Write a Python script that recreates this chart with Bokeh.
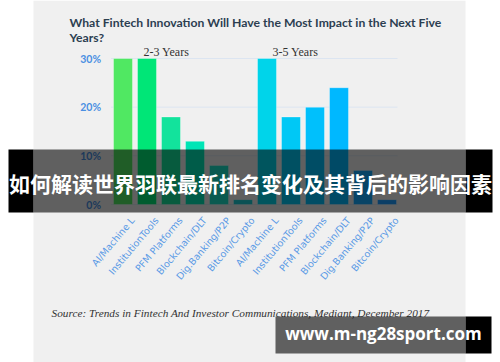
from bokeh.plotting import figure
from bokeh.models import (Range1d, FixedTicker, BoxAnnotation, Label,
                          PrintfTickFormatter)
from bokeh.embed import file_html
from bokeh.resources import INLINE

# ---- data ----
innovations = ["AI/Machine L", "InstitutionTools", "PFM Platforms",
               "Blockchain/DLT", "Dig.Banking/P2P", "Bitcoin/Crypto"]
horizons = ["2-3 Years", "3-5 Years"]
values_2_3 = [30, 30, 18, 13, 8, 1]
values_3_5 = [30, 18, 20, 24, 7, 1]
y_ticks = [0, 10, 20, 30]

title_lines = ["What Fintech Innovation Will Have the Most Impact in the Next Five",
               "Years?"]
source_text = "Source: Trends in Fintech And Investor Communications, Mediant, December 2017"
banner_text = "如何解读世界羽联最新排名变化及其背后的影响因素"
watermark_text = "www.m-ng28sport.com"

# ---- styles ----
bar_colors = ["#50e862", "#00e677", "#12e39c", "#00e5b6", "#19e2c8", "#1ccbd2",
              "#00d4ea", "#00c8f5", "#00c0fc", "#00b8ff", "#14aaff", "#1c9cff"]

W, H = 500, 362
PX = 146 / 30.0          # pixels per percentage point
X0, Y0 = 110.5, 204      # pixel position of category -0.5 and of 0 %


def dx(ix):
    return (ix - X0) / 24.0 - 0.5


def dy(iy):
    return (Y0 - iy) / PX


labels = innovations + innovations
xs = list(range(len(labels)))
tops = values_2_3 + values_3_5

p = figure(width=W, height=H, output_backend="svg", toolbar_location=None,
           x_range=Range1d(dx(0), dx(W)), y_range=Range1d(dy(H), dy(0)),
           min_border=0, min_border_left=0, min_border_right=0,
           min_border_top=0, min_border_bottom=0,
           background_fill_color="white", border_fill_color="white",
           outline_line_color=None)

# panel background
p.add_layout(BoxAnnotation(left=dx(33), right=dx(465),
                           fill_color="#f0f0f0", fill_alpha=1, line_color=None,
                           level="underlay"))

# grid lines
p.xgrid.visible = False
p.ygrid.visible = False
p.segment(x0=-0.5, x1=dx(397), y0=y_ticks, y1=y_ticks,
          line_color="#dce5f1", line_width=1)

p.vbar(x=xs, top=tops, width=0.79, bottom=0, fill_color=bar_colors,
       line_color="white", line_alpha=0.35, line_width=1)

# axes
p.yaxis.fixed_location = -0.5
p.yaxis.ticker = FixedTicker(ticks=y_ticks)
p.yaxis.formatter = PrintfTickFormatter(format="%d%%")
p.yaxis.axis_line_color = None
p.yaxis.major_tick_line_color = None
p.yaxis.minor_tick_line_color = None
p.yaxis.major_label_standoff = 4
p.yaxis.major_label_text_font = "Lato"
p.yaxis.major_label_text_font_style = "bold"
p.yaxis.major_label_text_font_size = "10.5px"
p.yaxis.major_label_text_color = "#4a8fe2"

shift = 0.4
xticks = [x + shift for x in xs]
p.xaxis.fixed_location = 0
p.xaxis.ticker = FixedTicker(ticks=xticks)
p.xaxis.major_label_overrides = {t: lab for t, lab in zip(xticks, labels)}
p.xaxis.major_label_orientation = 0.87
p.xaxis.axis_line_color = None
p.xaxis.major_tick_line_color = None
p.xaxis.minor_tick_line_color = None
p.xaxis.major_label_standoff = 8
p.xaxis.major_label_text_font = "DejaVu Sans"
p.xaxis.major_label_text_font_size = "9.5px"
p.xaxis.major_label_text_color = "#5a9ae6"

# title
for i, line in enumerate(title_lines):
    p.add_layout(Label(x=dx(69), y=dy(22 + 15 * i), text=line,
                       text_font="Lato", text_font_style="bold",
                       text_font_size="12.2px", text_color="#2c3e50",
                       text_align="left", text_baseline="alphabetic"))

# group labels
for h, ix in zip(horizons, [143, 272]):
    p.add_layout(Label(x=dx(ix), y=dy(51), text=h,
                       text_font="Liberation Serif", text_font_size="12px",
                       text_color="#333333", text_align="left",
                       text_baseline="alphabetic"))

# source
p.add_layout(Label(x=dx(51), y=dy(312), text=source_text,
                   text_font="Liberation Serif", text_font_style="italic",
                   text_font_size="11.3px", text_color="#333333",
                   text_align="left", text_baseline="alphabetic"))

# banner
for l, r, a in [(8, 33, 1.0), (33, 465, 0.6), (465, 492, 1.0)]:
    p.add_layout(BoxAnnotation(left=dx(l), right=dx(r), top=dy(149), bottom=dy(212),
                               fill_color="black", fill_alpha=a, line_color=None,
                               level="overlay"))
p.add_layout(Label(x=dx(250), y=dy(182), text=banner_text,
                   text_font="Noto Sans CJK SC", text_font_style="bold",
                   text_font_size="21px", text_color="white",
                   text_align="center", text_baseline="middle", level="overlay"))

# watermark
for l, r, a in [(275, 465, 0.6), (465, 491, 1.0)]:
    p.add_layout(BoxAnnotation(left=dx(l), right=dx(r), top=dy(316), bottom=dy(353),
                               fill_color="black", fill_alpha=a, line_color=None,
                               level="overlay"))
p.add_layout(Label(x=dx(383), y=dy(333), text=watermark_text,
                   text_font="Open Sans", text_font_style="bold",
                   text_font_size="17px", text_color="white",
                   text_align="center", text_baseline="middle", level="overlay"))

open("out.html", "w").write(file_html(p, INLINE))
